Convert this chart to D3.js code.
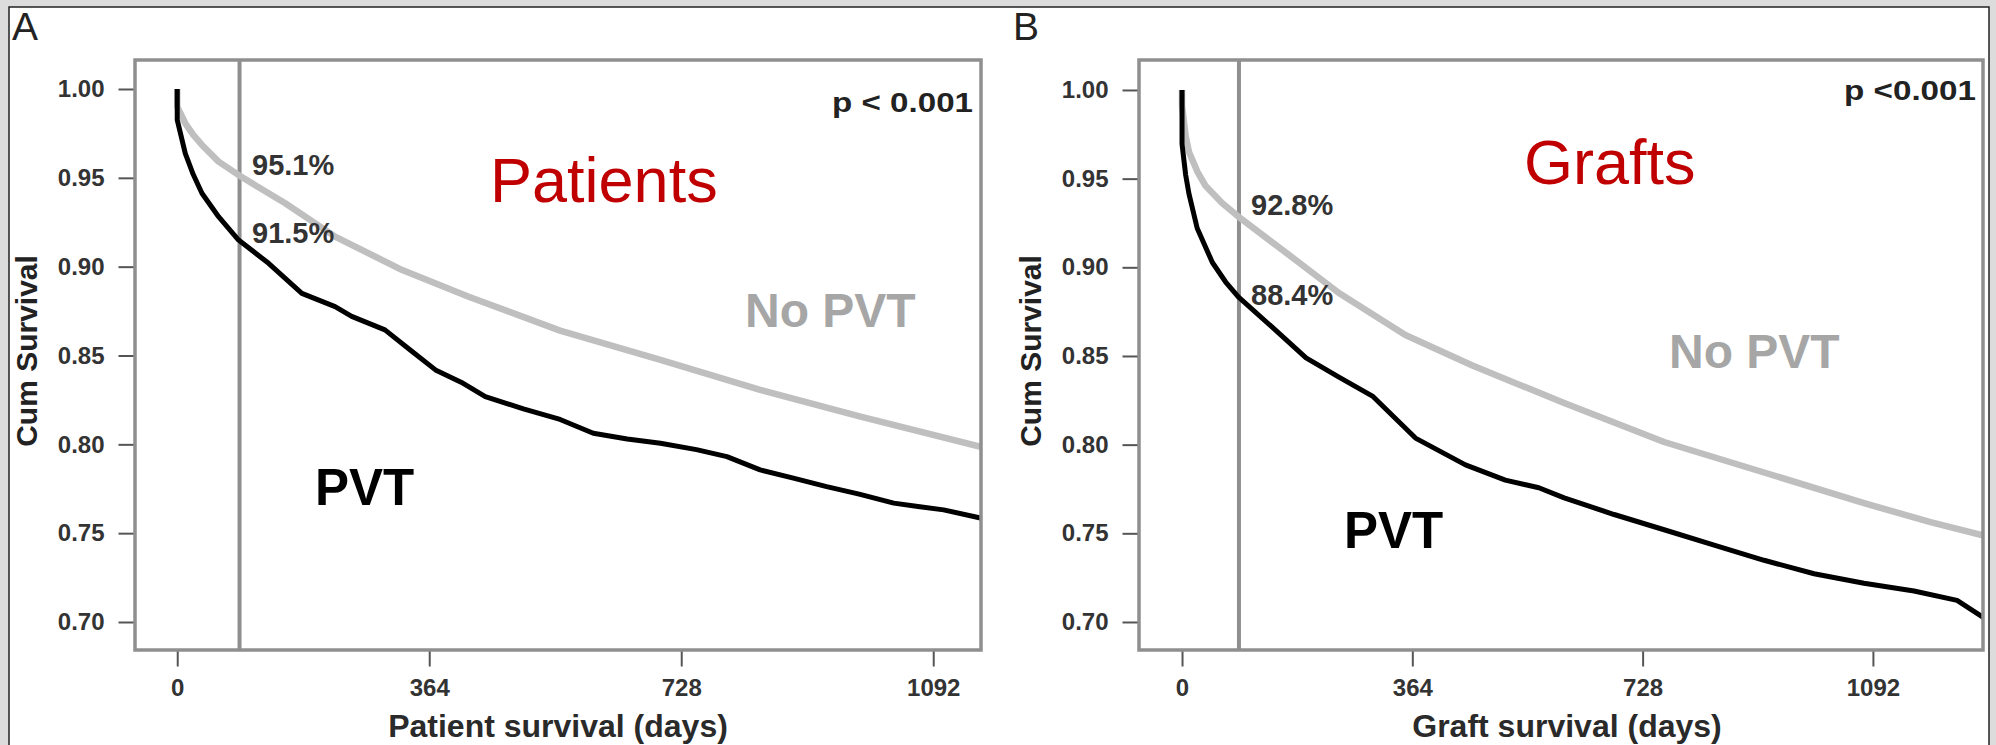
<!DOCTYPE html>
<html><head><meta charset="utf-8">
<script src="https://cdn.jsdelivr.net/npm/d3@7"></script>
<style>
html,body{margin:0;padding:0;background:#dcdcdc;}
svg{display:block;}
text{font-family:"Liberation Sans",Arial,Helvetica,sans-serif;}
</style></head><body>
<svg id="chart" width="1996" height="745"></svg>
<script>
// ---------- data ----------
const xTickValues = [0, 364, 728, 1092];
const yTickValues = [0.70, 0.75, 0.80, 0.85, 0.90, 0.95, 1.00];
const landmarkDay = 90;

// [day, cumulative survival]
const patientsNoPVT = [[0,1.0],[0,0.990],[11.6,0.9807],[23.5,0.974],[35.7,0.9685],[59.7,0.9591],[92,0.9507],[156,0.9357],[228,0.9169],[325,0.8981],[421,0.8831],[553,0.864],[698,0.8475],[842,0.8306],[987,0.8156],[1162,0.7985]];
const patientsPVT = [[0,1.0],[0,0.9826],[11.6,0.9638],[23,0.952],[35.7,0.9413],[59.7,0.9281],[88.6,0.915],[132,0.9019],[180,0.885],[228,0.8775],[252,0.872],[300,0.8644],[337,0.853],[373,0.8419],[410,0.835],[445,0.8268],[500,0.820],[553,0.814],[601,0.8062],[650,0.803],[698,0.8006],[750,0.797],[794,0.7931],[842,0.7856],[890,0.781],[938,0.7762],[985,0.772],[1035,0.7669],[1070,0.765],[1107,0.7631],[1162,0.7584]];
const graftsNoPVT = [[0,1.0],[0,0.991],[5.8,0.9738],[11,0.965],[24.2,0.954],[37.4,0.9458],[63.7,0.9361],[89,0.9286],[169,0.907],[248,0.8855],[353,0.8618],[459,0.8446],[604,0.8235],[762,0.8015],[920,0.7843],[1078,0.767],[1183,0.7563],[1267,0.7487]];
const graftsPVT = [[0,1.0],[0,0.9695],[5.8,0.952],[11,0.9414],[24,0.922],[48,0.9027],[69,0.8917],[89,0.8833],[143,0.8661],[196,0.8489],[248,0.8381],[301,0.8274],[369,0.8037],[448,0.7886],[511,0.780],[564,0.7757],[604,0.7700],[683,0.7606],[762,0.752],[841,0.7434],[920,0.7348],[999,0.7272],[1078,0.7218],[1157,0.7175],[1225,0.7122],[1267,0.7025]];

const panelLetters = ["A", "B"];
const panelTitles = ["Patients", "Grafts"];
const xTitles = ["Patient survival (days)", "Graft survival (days)"];
const yTitle = "Cum Survival";
const pValues = ["p < 0.001", "p <0.001"];
const landmarkLabels = [["95.1%", "91.5%"], ["92.8%", "88.4%"]];
const groupNames = ["No PVT", "PVT"];

// ---------- layout ----------
const svg = d3.select("#chart");
svg.append("rect").attr("x",9).attr("y",7).attr("width",1980).attr("height",800)
  .attr("fill","#fff").attr("stroke","#222").attr("stroke-width",1.5);

const panels = [
  {left:135, right:981, top:60, bottom:650, xd:[-61,1161], yd:[0.68424,1.01632],
   series:[patientsNoPVT, patientsPVT], letterX:12, yTitleX:37, xTitleX:558,
   titleX:490, titleY:202, pX:973, pY:112, pLen:141,
   lblX:252, lblY:[175,243], noX:745, noY:327, pvtX:315, pvtY:505},
  {left:1139, right:1983, top:60, bottom:650, xd:[-68,1266], yd:[0.6842,1.0169],
   series:[graftsNoPVT, graftsPVT], letterX:1013, yTitleX:1041, xTitleX:1567,
   titleX:1524, titleY:184, pX:1976, pY:100, pLen:132,
   lblX:1251, lblY:[215,305], noX:1669, noY:368, pvtX:1344, pvtY:548}
];

panels.forEach((p, i) => {
  const x = d3.scaleLinear().domain(p.xd).range([p.left, p.right]);
  const y = d3.scaleLinear().domain(p.yd).range([p.bottom, p.top]);
  const g = svg.append("g");

  const clipId = "clip" + i;
  svg.append("clipPath").attr("id", clipId).append("rect")
    .attr("x", p.left).attr("y", p.top).attr("width", p.right - p.left).attr("height", p.bottom - p.top);

  // panel letter
  g.append("text").attr("x", p.letterX).attr("y", 40).attr("font-size", 39)
    .attr("fill", "#222").text(panelLetters[i]);

  // landmark vertical line
  g.append("line").attr("x1", x(landmarkDay)).attr("x2", x(landmarkDay))
    .attr("y1", p.top).attr("y2", p.bottom).attr("stroke", "#8f8f8f").attr("stroke-width", 4);

  // curves
  const line = d3.line().x(d => x(d[0])).y(d => y(d[1])).curve(d3.curveLinear);
  const cg = g.append("g").attr("clip-path", `url(#${clipId})`);
  cg.append("path").datum(p.series[0]).attr("d", line).attr("fill", "none")
    .attr("stroke", "#bfbfbf").attr("stroke-width", 6.5).attr("stroke-linejoin", "round");
  cg.append("path").datum(p.series[1]).attr("d", line).attr("fill", "none")
    .attr("stroke", "#000").attr("stroke-width", 5).attr("stroke-linejoin", "round");

  // plot frame
  g.append("rect").attr("x", p.left).attr("y", p.top).attr("width", p.right - p.left)
    .attr("height", p.bottom - p.top).attr("fill", "none").attr("stroke", "#8f8f8f").attr("stroke-width", 3.5);

  // axes
  const yAxis = g.append("g").attr("transform", `translate(${p.left - 1.5},0)`)
    .call(d3.axisLeft(y).tickValues(yTickValues).tickFormat(d3.format(".2f")).tickSize(15).tickSizeOuter(0).tickPadding(14));
  yAxis.select(".domain").remove();
  yAxis.selectAll(".tick line").attr("stroke", "#555").attr("stroke-width", 2);
  yAxis.selectAll(".tick text").attr("font-size", 24).attr("font-weight", "bold")
    .attr("fill", "#333").attr("font-family", '"Liberation Sans",Arial,sans-serif');

  const xAxis = g.append("g").attr("transform", `translate(0,${p.bottom + 1.5})`)
    .call(d3.axisBottom(x).tickValues(xTickValues).tickFormat(d3.format("d")).tickSize(15).tickSizeOuter(0));
  xAxis.select(".domain").remove();
  xAxis.selectAll(".tick line").attr("stroke", "#555").attr("stroke-width", 2);
  xAxis.selectAll(".tick text").attr("font-size", 24).attr("font-weight", "bold")
    .attr("fill", "#333").attr("y", 44).attr("dy", 0)
    .attr("font-family", '"Liberation Sans",Arial,sans-serif');

  // axis titles
  g.append("text").attr("transform", `translate(${p.yTitleX},${(p.top + p.bottom) / 2 - 4}) rotate(-90)`)
    .attr("text-anchor", "middle").attr("font-size", 30).attr("font-weight", "bold")
    .attr("fill", "#222").text(yTitle);
  g.append("text").attr("x", p.xTitleX).attr("y", 737).attr("text-anchor", "middle")
    .attr("font-size", 32).attr("font-weight", "bold").attr("fill", "#2a2a2a").text(xTitles[i]);

  // annotations
  g.append("text").attr("x", p.titleX).attr("y", p.titleY).attr("font-size", 63)
    .attr("fill", "#c00000").text(panelTitles[i]);
  const pt = g.append("text").attr("text-anchor", "end")
    .attr("font-size", 28).attr("font-weight", "bold").attr("fill", "#222").text(pValues[i]);
  const pw = pt.node().getComputedTextLength();
  const sx = p.pLen / pw;
  pt.attr("transform", `translate(${p.pX},${p.pY}) scale(${sx},1)`);
  landmarkLabels[i].forEach((t, j) => {
    g.append("text").attr("x", p.lblX).attr("y", p.lblY[j]).attr("font-size", 29)
      .attr("font-weight", "bold").attr("fill", "#333").text(t);
  });
  g.append("text").attr("x", p.noX).attr("y", p.noY).attr("font-size", 48)
    .attr("font-weight", "bold").attr("fill", "#a6a6a6").text(groupNames[0]);
  g.append("text").attr("x", p.pvtX).attr("y", p.pvtY).attr("font-size", 51)
    .attr("font-weight", "bold").attr("fill", "#000").text(groupNames[1]);
});
</script>
</body></html>
